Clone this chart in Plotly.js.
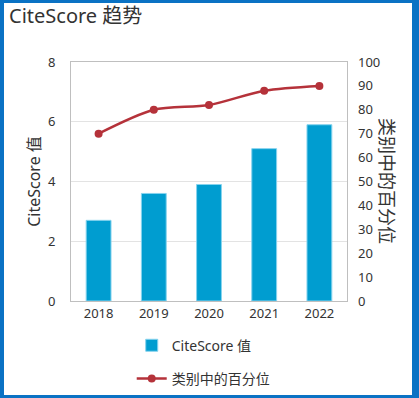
<!DOCTYPE html>
<html>
<head>
<meta charset="utf-8">
<script src="https://cdn.plot.ly/plotly-3.0.1.min.js"></script>
<style>
html,body{margin:0;padding:0;background:#fff;}
#frame{box-sizing:border-box;width:419px;height:398px;border-style:solid;border-color:#0a72c4;border-width:3px 7px 3px 4px;background:#fff;}
#chart{width:408px;height:392px;}
</style>
</head>
<body>
<div id="frame"><div id="chart"></div></div>
<script>
var years = ['2018', '2019', '2020', '2021', '2022'];
var citeScore = [2.7, 3.6, 3.9, 5.1, 5.9];
var percentile = [70, 80, 82, 88, 90];
var leftTicks = [0, 2, 4, 6, 8];
var rightTicks = [0, 10, 20, 30, 40, 50, 60, 70, 80, 90, 100];

var FONT = '"Segoe UI", "Noto Sans", "Noto Sans CJK SC", sans-serif';
var CJK = '"Noto Sans CJK SC", "Noto Sans", sans-serif';

var traces = [
  {
    type: 'bar', x: years, y: citeScore, name: 'CiteScore 值',
    legendgroup: 'a',
    marker: {color: '#009dd0', line: {color: '#86d3ee', width: 1}},
    hoverinfo: 'skip'
  },
  {
    type: 'scatter', mode: 'lines+markers', x: years, y: percentile, yaxis: 'y2',
    name: '类别中的百分位', legendgroup: 'b',
    line: {color: '#b5323a', width: 2.5, shape: 'spline', smoothing: 0.8},
    marker: {color: '#b5323a', size: 8},
    hoverinfo: 'skip'
  }
];

var layout = {
  width: 408, height: 392,
  margin: {l: 67, r: 65, t: 59, b: 94, autoexpand: false},
  paper_bgcolor: '#fff', plot_bgcolor: '#fff',
  font: {family: FONT, color: '#333', size: 13},
  title: {text: 'CiteScore 趋势', x: 0, xref: 'container', xanchor: 'left', y: 0.985, yref: 'container', yanchor: 'top',
          pad: {l: 5},
          font: {size: 20, color: '#333', family: FONT}},
  bargap: 0.55,
  showlegend: true,
  legend: {x: 0.22, xanchor: 'left', y: -0.12, yanchor: 'top', orientation: 'v',
           traceorder: 'grouped', tracegroupgap: 12,
           font: {size: 14, color: '#333', family: FONT}},
  xaxis: {
    type: 'category', showline: true, mirror: true, linecolor: '#bfbfbf', linewidth: 1,
    showgrid: false, ticks: '', tickfont: {size: 13, color: '#333'}, fixedrange: true
  },
  yaxis: {
    range: [0, 8], tickvals: leftTicks, ticktext: leftTicks.map(String),
    showline: true, mirror: true, linecolor: '#bfbfbf', linewidth: 1,
    showgrid: true, gridcolor: '#e3e3e3', zeroline: false, ticks: '',
    ticklabelstandoff: 12, tickfont: {size: 13, color: '#333'},
    title: {text: 'CiteScore 值', font: {size: 16, color: '#333', family: FONT}, standoff: 3},
    fixedrange: true
  },
  yaxis2: {
    range: [0, 100], tickvals: rightTicks, ticktext: rightTicks.map(String),
    overlaying: 'y', side: 'right', showgrid: false, zeroline: false, showline: false, ticks: '',
    ticklabelstandoff: 10, tickfont: {size: 13, color: '#333'}, fixedrange: true
  },
  annotations: [
    {text: '类别中的百分位', xref: 'paper', yref: 'paper', x: 1.15, y: 0.5,
     xanchor: 'center', yanchor: 'middle', textangle: 90, showarrow: false,
     font: {size: 18, color: '#333', family: CJK}}
  ]
};

Plotly.newPlot('chart', traces, layout, {displayModeBar: false, staticPlot: true});
</script>
</body>
</html>
